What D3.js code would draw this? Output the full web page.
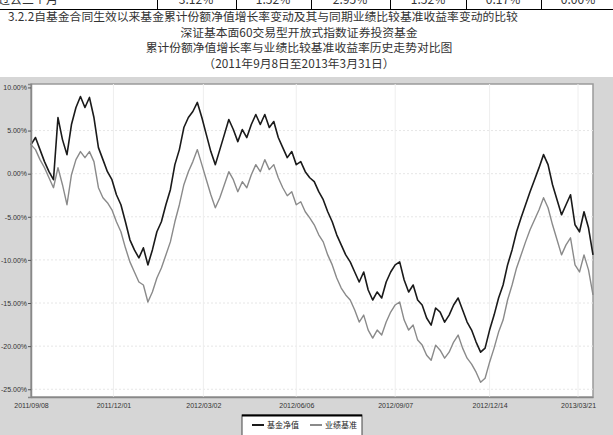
<!DOCTYPE html>
<html>
<head>
<meta charset="utf-8">
<script src="https://cdn.jsdelivr.net/npm/d3@7"></script>
<style>
  body { margin: 0; background: #fff; }
  svg { display: block; font-family: "Noto Sans CJK SC", "Noto Sans", sans-serif; }
  .tick-label { font-family: "Liberation Sans", Arial, sans-serif; font-size: 7px; fill: #333; }
</style>
</head>
<body>
<svg width="613" height="435"></svg>
<script>
// 表格最后一行（只露出下半截）
var tableRow = ["过去三个月", "3.12%", "1.52%", "2.95%", "1.52%", "0.17%", "0.00%"];

var titleLines = [
  "3.2.2自基金合同生效以来基金累计份额净值增长率变动及其与同期业绩比较基准收益率变动的比较",
  "深证基本面60交易型开放式指数证券投资基金",
  "累计份额净值增长率与业绩比较基准收益率历史走势对比图",
  "（2011年9月8日至2013年3月31日）"
];

// 每3个交易日取一个点，单位 %
var fundGrowth = [
  3.37, 4.19, 2.79, 1.40, 0.23, -0.70, 6.51, 3.95, 2.21, 5.70,
  7.67, 8.95, 7.67, 8.84, 6.51, 3.02, 1.63, 0.23, -0.70, -2.44,
  -3.60, -5.58, -7.67, -8.84, -9.77, -8.60, -10.58, -8.84, -6.74, -5.58,
  -3.60, -1.86, 1.05, 2.79, 5.35, 6.51, 7.21, 8.26, 6.51, 4.53,
  2.56, 1.05, 2.79, 4.53, 6.28, 5.12, 3.72, 5.12, 4.19, 5.70,
  6.86, 5.70, 6.86, 5.35, 6.05, 4.19, 3.02, 1.86, 2.56, 1.05,
  1.40, 0.23, -0.47, -0.93, -2.09, -3.02, -4.42, -5.58, -7.09, -8.26,
  -9.42, -10.23, -11.40, -12.56, -11.40, -13.49, -14.65, -13.72, -14.42, -12.56,
  -11.40, -10.58, -10.23, -12.33, -13.72, -12.91, -14.65, -15.23, -16.74, -17.56,
  -15.58, -16.05, -17.21, -16.40, -15.23, -14.42, -15.81, -17.21, -18.14, -19.53,
  -20.70, -20.23, -18.14, -16.40, -14.42, -12.91, -10.58, -8.84, -6.74, -5.12,
  -3.60, -2.09, -0.70, 0.70, 2.21, 1.05, -1.28, -3.02, -4.77, -3.60,
  -2.44, -5.93, -6.74, -4.42, -6.28, -9.42
];
var benchGrowth = [
  3.37, 2.79, 1.63, 0.70, -0.47, -1.63, 0.70, -1.28, -3.60, -0.12,
  1.63, 2.56, 1.86, 2.56, 1.40, -1.63, -2.79, -3.37, -4.19, -5.58,
  -6.74, -8.60, -10.23, -11.40, -12.56, -12.91, -14.88, -13.72, -12.09, -10.93,
  -9.42, -7.91, -5.58, -3.60, -1.28, 0.23, 1.40, 2.79, 1.05, -0.70,
  -2.44, -3.95, -2.79, -1.28, 0.23, -0.70, -2.09, -0.93, -1.63, -0.12,
  1.05, 0.23, 1.63, 0.47, 1.05, -0.47, -1.63, -2.56, -2.09, -3.60,
  -3.26, -4.42, -5.12, -5.93, -7.09, -7.91, -9.42, -10.58, -12.09, -13.26,
  -14.07, -14.65, -15.81, -17.21, -16.40, -18.14, -19.07, -18.14, -18.72, -17.21,
  -16.05, -15.23, -14.88, -16.98, -18.14, -17.56, -19.30, -19.88, -21.05, -21.63,
  -19.88, -20.47, -21.40, -20.70, -19.53, -18.72, -20.23, -21.40, -22.09, -23.02,
  -24.19, -23.72, -21.86, -20.23, -18.37, -16.98, -14.65, -12.91, -10.93, -9.42,
  -7.91, -6.51, -5.35, -4.19, -2.79, -3.95, -5.93, -7.67, -9.42, -8.26,
  -7.44, -10.58, -11.40, -9.42, -11.16, -14.07
];
var dayStep = 3;
var totalDays = 375;

var xTickDays = [0, 55, 115, 177, 243, 306, 365];
var xTickLabels = ["2011/09/08", "2011/12/01", "2012/03/02", "2012/06/06", "2012/09/07", "2012/12/14", "2013/03/21"];
var yTicks = [10, 5, 0, -5, -10, -15, -20, -25];
var legendNames = ["基金净值", "业绩基准"];
var lineColors = ["#1a1a1a", "#8a8a8a"];

var svg = d3.select("svg");

//////// 顶部表格残行
var colLines = [157, 236, 311, 390, 466, 541];
var colCenters = [-2, 196, 273, 350, 428, 503, 578];
var table = svg.append("g").classed("table", true);
table.append("line")
  .attr("x1", 0).attr("x2", 613).attr("y1", 9.5).attr("y2", 9.5)
  .style("stroke", "#000").style("stroke-width", 1);
table.selectAll(".vline").data(colLines).enter().append("line")
  .attr("x1", d => d + 0.5).attr("x2", d => d + 0.5)
  .attr("y1", 0).attr("y2", 9.5)
  .style("stroke", "#000");
table.selectAll(".cellText").data(tableRow).enter().append("text")
  .attr("x", (d, i) => colCenters[i])
  .attr("y", 4)
  .attr("text-anchor", (d, i) => i == 0 ? "start" : "middle")
  .style("font-size", "12px").style("fill", "#333")
  .text(d => d);

//////// 标题
svg.selectAll(".title").data(titleLines).enter().append("text")
  .attr("x", (d, i) => i == 0 ? 8 : 299)
  .attr("y", (d, i) => 21 + i * 15.5)
  .attr("text-anchor", (d, i) => i == 0 ? "start" : "middle")
  .style("font-size", "11.8px").style("fill", "#333")
  .text(d => d);

//////// 图表区
svg.append("rect")
  .attr("x", 0).attr("y", 77).attr("width", 613).attr("height", 358)
  .style("fill", "#d6d6d6");

var x = d3.scaleLinear().domain([0, totalDays]).range([31, 593]);
var y = d3.scaleLinear().domain([-25.9, 10.4]).range([397, 84]);

svg.append("rect")
  .attr("x", x(0)).attr("y", y(10.4))
  .attr("width", x(totalDays) - x(0)).attr("height", y(-25.9) - y(10.4))
  .style("fill", "#fff")
  .style("stroke", "#9a9a9a").style("stroke-width", 1.5);

// 网格线
svg.append("g").selectAll("line").data(yTicks.slice(1)).enter().append("line")
  .attr("x1", x(0)).attr("x2", x(totalDays))
  .attr("y1", d => y(d)).attr("y2", d => y(d))
  .style("stroke", "#e6e6e6").style("stroke-dasharray", "2,2");
svg.append("g").selectAll("line").data(xTickDays.slice(1)).enter().append("line")
  .attr("x1", d => x(d)).attr("x2", d => x(d))
  .attr("y1", y(10.4)).attr("y2", y(-25.9))
  .style("stroke", "#eeeeee");

// 折线
var line = d3.line()
  .x((d, i) => x(i * dayStep))
  .y(d => y(d));

[benchGrowth, fundGrowth].forEach(function (series, k) {
  svg.append("path")
    .datum(series)
    .attr("d", line)
    .style("fill", "none")
    .style("stroke", k == 1 ? lineColors[0] : lineColors[1])
    .style("stroke-width", k == 1 ? 1.6 : 1.4)
    .style("stroke-linejoin", "round");
});

// 坐标轴
var yAxis = d3.axisLeft(y).tickValues(yTicks).tickSize(3)
  .tickFormat(d => d.toFixed(2) + "%");
var gy = svg.append("g").attr("transform", "translate(" + x(0) + ",0)").call(yAxis);
gy.select(".domain").style("stroke", "#888").style("stroke-width", 1.5);
gy.selectAll(".tick line").style("stroke", "#555");
gy.selectAll(".tick text").attr("class", "tick-label").attr("x", -4);

var xAxis = d3.axisBottom(x).tickValues(xTickDays).tickSize(0)
  .tickFormat((d, i) => xTickLabels[i]);
var gx = svg.append("g").attr("transform", "translate(0," + y(-25.9) + ")").call(xAxis);
gx.select(".domain").style("stroke", "#888").style("stroke-width", 1.5);
gx.selectAll(".tick text").attr("class", "tick-label").attr("dy", "1.2em");

//////// 图例
var legend = svg.append("g").classed("legend", true).attr("transform", "translate(242,415)");
legend.append("rect")
  .attr("width", 120).attr("height", 24)
  .style("fill", "#fff").style("stroke", "#444").style("stroke-width", 1);
legend.append("line")
  .attr("x1", 0).attr("x2", 120).attr("y1", 0.5).attr("y2", 0.5)
  .style("stroke", "#000").style("stroke-width", 2);
var items = legend.selectAll(".item").data(legendNames).enter().append("g")
  .attr("transform", (d, i) => "translate(" + (10 + i * 58) + ",0)");
items.append("line")
  .attr("x1", 0).attr("x2", 12).attr("y1", 10).attr("y2", 10)
  .style("stroke", (d, i) => lineColors[i]).style("stroke-width", 2);
items.append("text")
  .attr("x", 15).attr("y", 13)
  .style("font-size", "8px").style("fill", "#222")
  .text(d => d);
</script>
</body>
</html>
